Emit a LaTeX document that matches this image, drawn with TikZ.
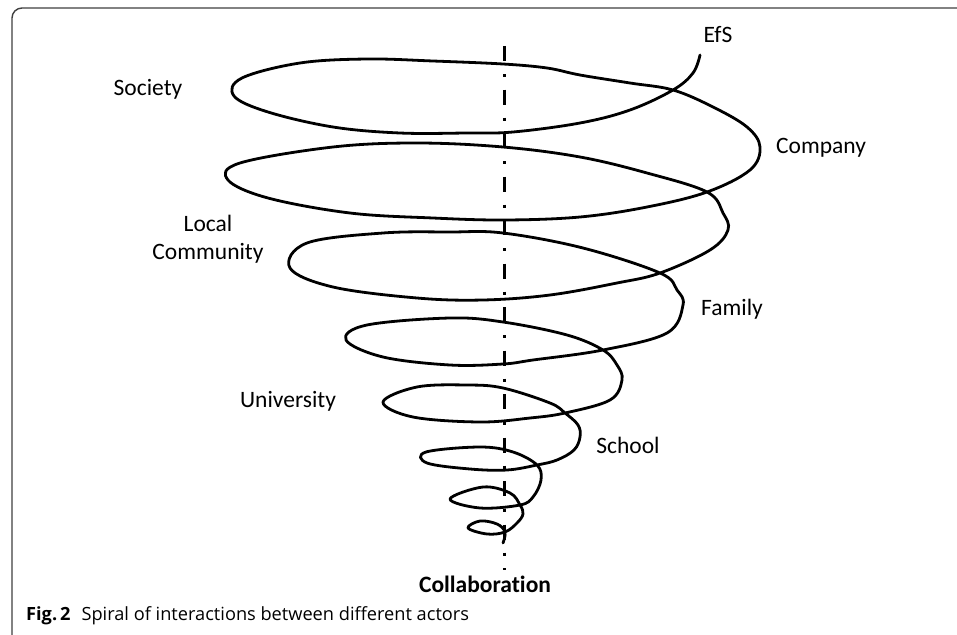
\documentclass[tikz,border=0pt]{standalone}
\usepackage{fontspec}
\setmainfont{Carlito}[Ligatures=NoCommon]
\newfontfamily\captionfont{Open Sans}
\usetikzlibrary{positioning}

\begin{document}
\begin{tikzpicture}[x=1pt, y=-1pt]

% Define styles
\tikzstyle{actor} = [font=\fontsize{23.5}{28}\selectfont, inner sep=0pt, anchor=base, align=center]
\tikzstyle{axisline} = [line width=3pt, dash pattern=on 15pt off 13pt on 3pt off 12.5pt]
\tikzstyle{spiral} = [line width=2.8pt, line cap=round, line join=round]
\tikzstyle{frame} = [draw=black!75, line width=1.4pt, rounded corners=10pt]

\clip (0,0) rectangle (957,634);
\fill[white] (0,0) rectangle (957,634);
\draw[frame] (12,8) rectangle (1000,645);

% Axis
\coordinate (axtop) at (504,46);
\coordinate (axbot) at (504,570);
\draw[axisline] (axtop) -- (axbot);

% Spiral, from the top end down to the centre
\draw[spiral] plot[smooth, tension=0.6] coordinates {
  (700,55) (693,73) (673,90) (630,110) (580,123) (513,132) (467,133) (400,133)
  (333,127) (268,112) (234,96) (242,78) (300,63) (367,59) (433,61)
  (503,64) (547,68) (580,75) (630,83) (673,90) (713,107) (747,127) (760,147)
  (750,170) (707,192) (647,207) (580,217) (505,220) (433,218) (350,213)
  (268,198) (228,180) (240,163) (333,147) (417,143) (503,147)
  (580,157) (647,173) (707,192) (723,213) (728,230) (710,250) (660,273)
  (617,283) (550,295) (483,300) (417,298) (333,287) (290,268)
  (307,243) (383,233) (450,232) (503,233) (583,248) (660,273) (677,290)
  (683,305) (667,333) (603,350) (533,360) (503,364) (450,365) (383,357)
  (346,340) (367,325) (450,318) (503,322) (567,335) (603,350)
  (617,365) (622,380) (610,400) (565,413) (530,418) (480,422) (413,417)
  (383,402) (417,387) (467,385) (503,388) (550,403) (565,413)
  (578,425) (580,437) (574,450) (557,460) (537,465) (507,470) (470,469)
  (427,463) (426,452) (480,447) (513,452) (537,465) (541,480)
  (533,497) (520,505) (480,508) (450,499) (483,487)
  (510,493) (520,505) (523,514) (517,523) (505,532) (487,534) (468,528)
  (480,521) (497,524) (505,532) (503,543)};

% Nodes
\node[actor] (efs) at (718,43) {EfS};
\node[actor] (society) at (148,95) {Society};
\node[actor] (company) at (821,153) {Company};
\node[actor] (local) at (208,259) {Local\\Community};
\node[actor] (family) at (732,315) {Family};
\node[actor] (university) at (288,407) {University};
\node[actor] (school) at (628,453) {School};
\node[actor, font=\fontsize{23.5}{28}\selectfont\bfseries] (collab) at (485,592) {Collaboration};

\node[anchor=base west, inner sep=0pt, font=\captionfont\fontsize{18.2}{22}\selectfont] (caption) at (26,620)
  {\textbf{Fig.\,2}\hspace{0.6em}Spiral of interactions between different actors};
\end{tikzpicture}
\end{document}
